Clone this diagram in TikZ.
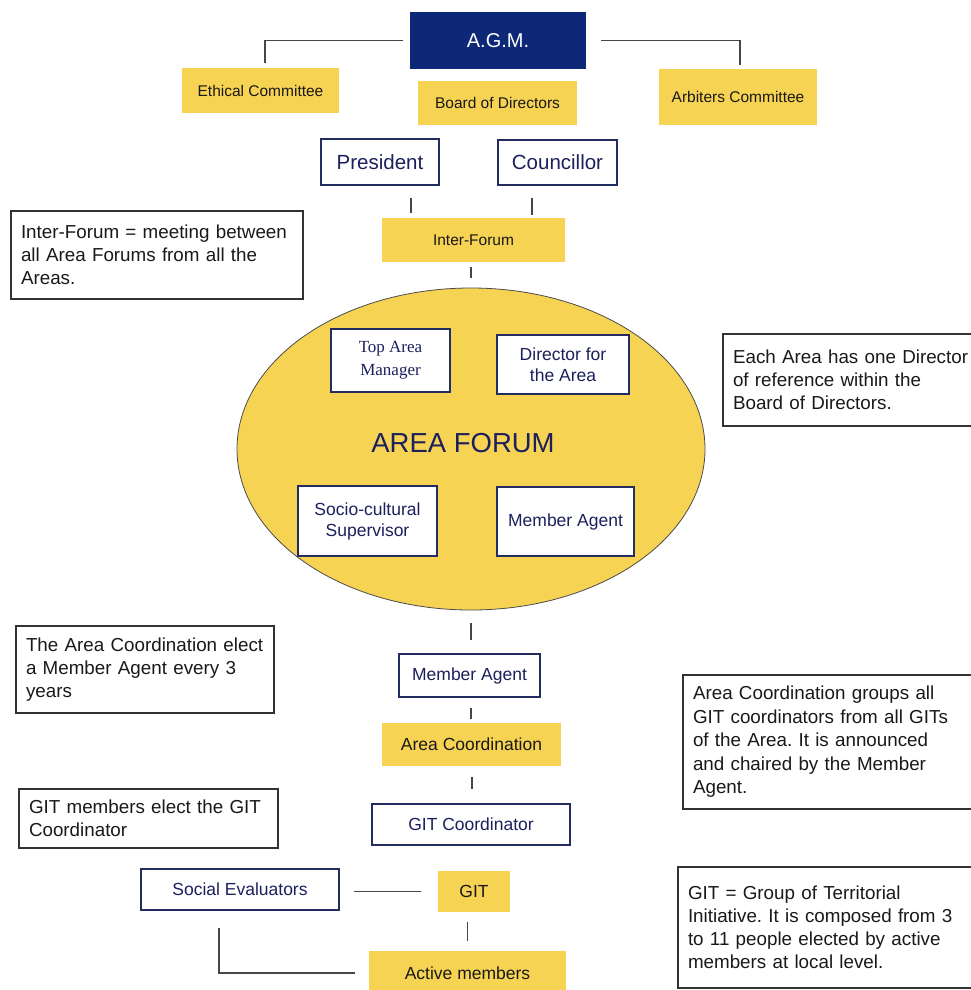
\documentclass[tikz,border=0pt]{standalone}
\usepackage{fontspec}
\setmainfont{Liberation Sans}
\newfontfamily\seriffam{Liberation Serif}
\usetikzlibrary{shapes.geometric}
\definecolor{gold}{RGB}{247,211,84}
\definecolor{navy}{RGB}{12,40,118}
\definecolor{navytext}{RGB}{28,32,92}
\definecolor{navyline}{RGB}{35,45,95}
\definecolor{linegray}{RGB}{70,70,70}
\definecolor{notegray}{RGB}{50,50,50}
\frenchspacing
\begin{document}
\frenchspacing
\begin{tikzpicture}[x=1pt,y=-1pt,
  sz/.style 2 args={minimum width=#1pt, minimum height=#2pt},
  base/.style={rectangle, inner sep=0pt, align=center, font=\fontsize{17.5}{21}\selectfont},
  topfont/.style={font=\fontsize{15.5}{18}\selectfont},
  bigfont/.style={font=\fontsize{20.5}{24}\selectfont},
  serifbox/.style={font=\seriffam\fontsize{17}{23}\selectfont},
  goldbox/.style={base, fill=gold, text=black!90},
  agmbox/.style={base, fill=navy, text=white, font=\fontsize{20}{24}\selectfont},
  navybox/.style={base, draw=navyline, line width=1.3pt, fill=white, text=navytext},
  notebox/.style={rectangle, draw=notegray, line width=1.2pt, fill=white, inner xsep=10pt, inner ysep=0pt, text=black!90, font=\fontsize{18.8}{22.8}\selectfont, align=left},
  forumshape/.style={ellipse, fill=gold, draw=black!70, line width=0.8pt, inner sep=0pt},
  conn/.style={draw=linegray, line width=1.5pt},
]
\useasboundingbox (0,0) rectangle (971,990);
\fill[white] (0,0) rectangle (971,990);
\clip (0,0) rectangle (971,990);

% top
\node[agmbox, sz={176}{57}] (agm) at (498,40.5) {A.G.M.};
\node[goldbox, topfont, sz={157}{45}] (ethical) at (260.5,90.5) {Ethical Committee};
\node[goldbox, topfont, sz={159}{44}] (board) at (497.5,103) {Board of Directors};
\node[goldbox, topfont, sz={158}{56}] (arbiters) at (738,97) {Arbiters Committee};
\node[navybox, bigfont, sz={118}{46}] (president) at (380,162) {President};
\node[navybox, bigfont, sz={119}{45}] (councillor) at (557.5,162.5) {Councillor};
\node[goldbox, topfont, sz={183}{44}] (interforum) at (473.5,240) {Inter-Forum};
\node[notebox, sz={292}{88}, text width=272pt] (noteif) at (157,255)
  {Inter-Forum = meeting between\\all Area Forums from all the\\Areas.};

% area forum
\node[forumshape, sz={468}{322}] (forum) at (471,449) {};
\node[font=\fontsize{27.5}{30}\selectfont, text=navytext, inner sep=0pt] (forumlabel) at (463,443) {AREA FORUM};
\node[navybox, serifbox, sz={119}{63}] (topmgr) at (390.5,360.5) {Top Area\\Manager};
\node[navybox, sz={132}{59}] (director) at (563,364.5) {Director for\\the Area};
\node[navybox, sz={139}{70}] (socio) at (367.5,521) {Socio-cultural\\Supervisor};
\node[navybox, sz={137}{69}] (magentin) at (565.5,521.5) {Member Agent};
\node[notebox, sz={300}{92}, text width=280pt] (notedir) at (873,380)
  {Each Area has one Director\\of reference within the\\Board of Directors.};

% lower chain
\node[navybox, sz={141}{43}] (magent) at (469.5,675.5) {Member Agent};
\node[notebox, sz={258}{87}, text width=238pt] (noteelect) at (145,669.5)
  {The Area Coordination elect\\a Member Agent every 3\\years};
\node[goldbox, sz={179}{43}] (areacoord) at (471.5,744.5) {Area Coordination};
\node[notebox, sz={300}{134}, text width=280pt, font=\fontsize{18.8}{23.5}\selectfont] (notecoord) at (833,742)
  {Area Coordination groups all\\GIT coordinators from all GITs\\of the Area. It is announced\\and chaired by the Member\\Agent.};
\node[navybox, sz={198}{41}] (gitcoord) at (471,824.5) {GIT Coordinator};
\node[notebox, sz={259}{59}, text width=239pt] (notegit) at (148.5,818.5)
  {GIT members elect the GIT\\Coordinator};
\node[navybox, sz={198}{41}] (social) at (240,889.5) {Social Evaluators};
\node[goldbox, sz={72}{41}] (git) at (474,891.5) {GIT};
\node[goldbox, sz={197}{44}] (active) at (467.5,973) {Active members};
\node[notebox, sz={300}{121}, text width=280pt, font=\fontsize{18.8}{23}\selectfont] (notegitdef) at (828,927.5)
  {GIT = Group of Territorial\\Initiative. It is composed from 3\\to 11 people elected by active\\members at local level.};

% connectors
\draw[conn, line width=1.1pt, shorten <=7pt, shorten >=5pt] (agm.west) -| ([xshift=4.5pt]ethical.north);
\draw[conn, line width=1.1pt, shorten <=15pt, shorten >=4pt] (agm.east) -| ([xshift=2pt]arbiters.north);
\draw[conn, shorten <=12pt, shorten >=5pt] ([xshift=31pt]president.south) -- ([xshift=31pt]president.south |- interforum.north);
\draw[conn, shorten <=12pt, shorten >=3pt] ([xshift=-25.5pt]councillor.south) -- ([xshift=-25.5pt]councillor.south |- interforum.north);
\draw[conn, shorten <=5pt, shorten >=10pt] (forum.north |- interforum.south) -- (forum.north);
\draw[conn, shorten <=13pt, shorten >=13pt] (forum.south) -- (forum.south |- magent.north);
\draw[conn, shorten <=10pt, shorten >=4pt] ([xshift=1.5pt]magent.south) -- ([xshift=1.5pt]magent.south |- areacoord.north);
\draw[conn, shorten <=11pt, shorten >=14pt] ([xshift=0.5pt]areacoord.south) -- ([xshift=0.5pt]areacoord.south |- gitcoord.north);
\draw[conn, line width=1.1pt, shorten <=17pt, shorten >=14pt] (git.west) -- (git.west -| social.east);
\draw[conn, shorten <=10pt, shorten >=10pt] (active.north |- git.south) -- (active.north);
\draw[conn, line width=1.1pt, shorten <=14pt, shorten >=17pt] (active.west) -| ([xshift=-21pt]social.south);
\end{tikzpicture}
\end{document}
